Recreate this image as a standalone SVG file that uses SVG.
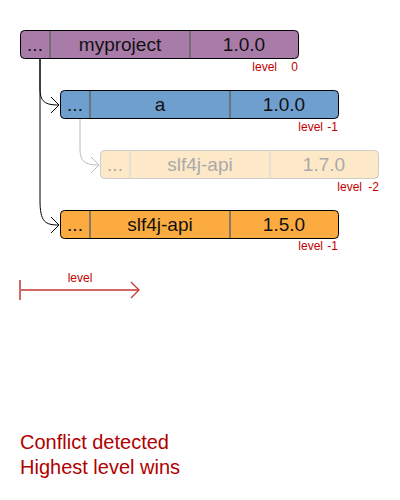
<svg xmlns="http://www.w3.org/2000/svg" width="400" height="500" viewBox="0 0 400 500">
<style>
.box{stroke:#000;stroke-width:1}
.div{stroke:#666;stroke-width:1.5}
.t{font-family:"Liberation Sans",Arial,sans-serif;font-size:19px;text-anchor:middle;fill:#111}
.lv{font-family:"Liberation Sans",Arial,sans-serif;font-size:12px;text-anchor:end;fill:#c00000}
.ghost .box{stroke:#ccc}
.ghost .div{stroke:#ddd}
.ghost .t{fill:#aaa}
.c{fill:none;stroke:#000;stroke-width:1}
.cg{fill:none;stroke:#bbb;stroke-width:1}
</style>
<rect width="400" height="500" fill="#fff"/>
<g id="connectors">
<path class="c" d="M40,59 L40,88 C40,102 45,105 59,105"/>
<path class="c" d="M51,97 L59,105 L51,113"/>
<path class="c" d="M40,59 L40,200 C40,222 45,225 59,225"/>
<path class="c" d="M51,217 L59,225 L51,233"/>
<path class="cg" d="M80,119 L80,148 C80,162 85,165 99,165"/>
<path class="cg" d="M91,157 L99,165 L91,173"/>
</g>
<g id="myproject">
<rect class="box" x="20.5" y="30.5" width="278" height="28" rx="4" fill="#a97ba8"/>
<line class="div" x1="50" y1="31" x2="50" y2="58"/>
<line class="div" x1="190" y1="31" x2="190" y2="58"/>
<text class="t" x="35" y="51">...</text>
<text class="t" x="120" y="51">myproject</text>
<text class="t" x="244" y="51">1.0.0</text>
<text class="lv" x="277" y="71">level</text>
<text class="lv" x="298" y="71">0</text>
</g>
<g id="a">
<rect class="box" x="60.5" y="90.5" width="278" height="28" rx="4" fill="#6f9fcf"/>
<line class="div" x1="90" y1="91" x2="90" y2="118"/>
<line class="div" x1="230" y1="91" x2="230" y2="118"/>
<text class="t" x="75" y="111">...</text>
<text class="t" x="160" y="111">a</text>
<text class="t" x="284" y="111">1.0.0</text>
<text class="lv" x="323" y="131">level</text>
<text class="lv" x="338" y="131">-1</text>
</g>
<g id="slf4j-170" class="ghost">
<rect class="box" x="100.5" y="150.5" width="278" height="28" rx="4" fill="#fde8c8"/>
<line class="div" x1="130" y1="151" x2="130" y2="178"/>
<line class="div" x1="270" y1="151" x2="270" y2="178"/>
<text class="t" x="115" y="171">...</text>
<text class="t" x="200" y="171">slf4j-api</text>
<text class="t" x="324" y="171">1.7.0</text>
<text class="lv" x="362" y="191">level</text>
<text class="lv" x="379" y="191">-2</text>
</g>
<g id="slf4j-150">
<rect class="box" x="60.5" y="210.5" width="278" height="28" rx="4" fill="#fbab3f"/>
<line class="div" x1="90" y1="211" x2="90" y2="238"/>
<line class="div" x1="230" y1="211" x2="230" y2="238"/>
<text class="t" x="75" y="231">...</text>
<text class="t" x="160" y="231">slf4j-api</text>
<text class="t" x="284" y="231">1.5.0</text>
<text class="lv" x="323" y="250">level</text>
<text class="lv" x="338" y="250">-1</text>
</g>
<g id="level-axis">
<line x1="20" y1="280" x2="20" y2="300" stroke="#d06868" stroke-width="2"/>
<line x1="20" y1="290" x2="139" y2="290" stroke="#d06868" stroke-width="2"/>
<path d="M131,282 L139,290 L131,298" fill="none" stroke="#c83030" stroke-width="1.2"/>
<text x="80" y="282" font-family="Liberation Sans,Arial,sans-serif" font-size="12" text-anchor="middle" fill="#c00000">level</text>
</g>
<g id="caption" font-family="Liberation Sans,Arial,sans-serif" font-size="20" fill="#b00000">
<text x="20" y="449">Conflict detected</text>
<text x="20" y="474">Highest level wins</text>
</g>
</svg>
